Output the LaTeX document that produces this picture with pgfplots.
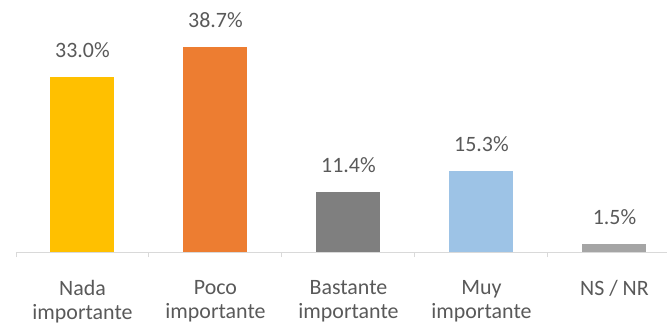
\documentclass[border=0pt]{standalone}
\usepackage{pgfplots}
\pgfplotsset{compat=1.18}
\usepackage{fontspec}
\setmainfont{Carlito}
\definecolor{cYel}{HTML}{FFC000}
\definecolor{cOra}{HTML}{ED7D31}
\definecolor{cGry}{HTML}{7F7F7F}
\definecolor{cBlu}{HTML}{9DC3E6}
\definecolor{cLgr}{HTML}{A5A5A5}
\definecolor{txt}{HTML}{595959}
\definecolor{axl}{HTML}{D9D9D9}
\begin{document}
\begin{tikzpicture}
\begin{axis}[
  scale only axis,
  width=651bp, height=252bp,
  xmin=-0.5, xmax=4.395,
  ymin=0, ymax=47.5,
  axis x line*=bottom,
  axis y line=none,
  x axis line style={axl, line width=1pt, -},
  xtick={0,1,2,3,4},
  xticklabels={{Nada\\importante},{Poco\\importante},{Bastante\\importante},{Muy\\importante},{NS / NR}},
  major tick length=0pt,
  x tick label style={align=center, font=\fontsize{22}{24}\selectfont, text=txt, inner sep=0pt, yshift=-28bp},
  extra x ticks={-0.5,0.5,1.5,2.5,3.5},
  extra x tick labels={},
  extra x tick style={major tick length=5bp, tick style={axl, line width=1pt}, tick align=outside},
  ybar, bar width=64bp,
  clip=false,
  nodes near coords={\pgfmathprintnumber[fixed,fixed zerofill,precision=1,assume math mode=true]{\pgfplotspointmeta}\%},
  every node near coord/.append style={font=\fontsize{22}{25}\selectfont, text=txt, inner sep=0pt, anchor=south, yshift=19bp},
]
\addplot[bar shift=0pt, fill=cYel, draw=none] coordinates {(0,33.0)};
\addplot[bar shift=0pt, fill=cOra, draw=none] coordinates {(1,38.7)};
\addplot[bar shift=0pt, fill=cGry, draw=none] coordinates {(2,11.4)};
\addplot[bar shift=0pt, fill=cBlu, draw=none] coordinates {(3,15.3)};
\addplot[bar shift=0pt, fill=cLgr, draw=none] coordinates {(4,1.5)};
\coordinate (sw) at (rel axis cs:0,0);
\coordinate (ne) at (rel axis cs:1,1);
\end{axis}
\pgfresetboundingbox
\path[use as bounding box] ([shift={(-16bp,-73bp)}]sw) rectangle (ne);
\end{tikzpicture}
\end{document}
